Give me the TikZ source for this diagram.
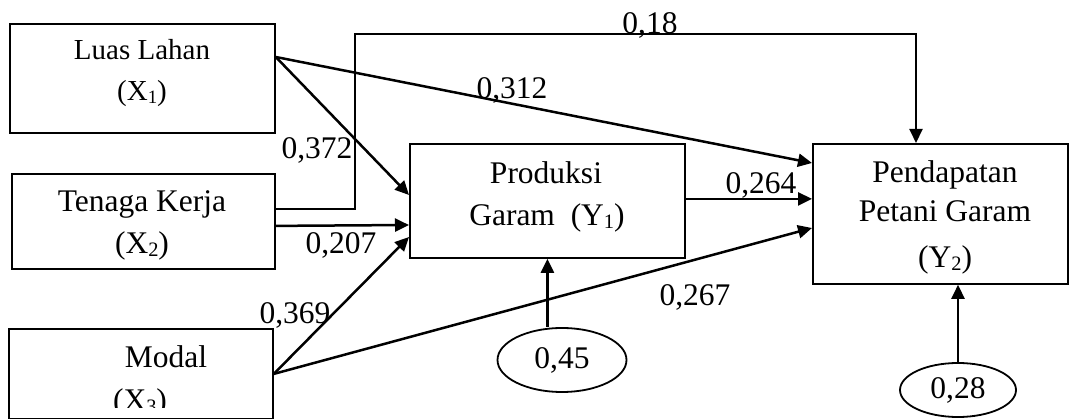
\documentclass[tikz,border=0pt]{standalone}
\usepackage{fontspec}
\setmainfont{Liberation Serif}
\usetikzlibrary{arrows.meta,shapes.geometric,calc}
\newcommand{\subidx}[1]{\raisebox{-0.08em}{\fontsize{0.65em}{0.65em}\selectfont #1}}
\begin{document}
\begin{tikzpicture}[x=1pt,y=-1pt,font=\fontsize{31.5}{36}\selectfont,
  box/.style={draw,line width=1.8pt,inner sep=0pt,anchor=north west},
  arr/.style={line width=2.5pt,-{Triangle[length=14pt,width=13pt]}},
  txt/.style={anchor=base,inner sep=0pt},
  small/.style={font=\fontsize{29}{33}\selectfont},
  err/.style={draw,ellipse,line width=1.8pt,inner sep=0pt}]
\useasboundingbox (0,0) rectangle (1069,419);
% boxes
\node[box,minimum width=265pt,minimum height=109pt] (x1) at (9,23) {};
\node[box,minimum width=263pt,minimum height=95pt] (x2) at (11,173) {};
\node[box,minimum width=264pt,minimum height=90pt] (x3) at (8,328) {};
\node[box,minimum width=275pt,minimum height=114pt] (y1) at (409,143) {};
\node[box,minimum width=255pt,minimum height=140pt] (y2) at (812,143) {};
\node[err,minimum width=129pt,minimum height=64pt] (e1) at (562,360) {0,45};
\node[err,minimum width=116pt,minimum height=54pt] (e2) at (958,390) {0,28};
% box texts
\node[txt,small] (tx1a) at (142,60) {Luas Lahan};
\node[txt,small] (tx1b) at (142,101) {(X\subidx{1})};
\node[txt] (tx2a) at (142,212) {Tenaga Kerja};
\node[txt] (tx2b) at (142,254) {(X\subidx{2})};
\node[txt] (tx3a) at (166,368) {Modal};
\begin{scope}
\clip (0,0) rectangle (1069,408);
\node[txt] (tx3b) at (140,411) {(X\subidx{3})};
\end{scope}
\node[txt] (ty1a) at (546,184) {Produksi};
\node[txt] (ty1b) at (547,226) {Garam\ \ (Y\subidx{1})};
\node[txt] (ty2a) at (945,183) {Pendapatan};
\node[txt] (ty2b) at (945,222) {Petani Garam};
\node[txt] (ty2c) at (945,268) {(Y\subidx{2})};
% connectors
\draw[arr,line width=2pt] ($(x2.east)+(0,-12.5)$) -| (355,34) -| ($(y2.north west)+(104,0)$);
\draw[arr] ($(x1.north east)+(0,34)$) -- ($(y1.north west)+(0,52)$);
\draw[arr] ($(x1.north east)+(0,34)$) -- ($(y2.north west)+(0,20)$);
\draw[arr] ($(x2.east)+(0,4.5)$) -- ($(y1.north west)+(0,82)$);
\draw[arr] (x3.east) -- ($(y1.north west)+(0,94)$);
\draw[arr] (x3.east) -- ($(y2.north west)+(0,85)$);
\draw[arr] ($(y1.east)+(0,-2)$) -- ($(y2.west)+(0,-15)$);
\draw[arr] (e1.north -| y1.south) -- (y1.south);
\draw[arr] (e2.north) -- (e2.north |- y2.south);
% labels
\node[txt] (l18) at (650,34) {0,18};
\node[txt] (l312) at (512,99) {0,312};
\node[txt] (l372) at (317,159) {0,372};
\node[txt] (l207) at (341,254) {0,207};
\node[txt] (l369) at (295,324) {0,369};
\node[txt] (l264) at (761,194) {0,264};
\node[txt] (l267) at (695,306) {0,267};
\end{tikzpicture}
\end{document}
